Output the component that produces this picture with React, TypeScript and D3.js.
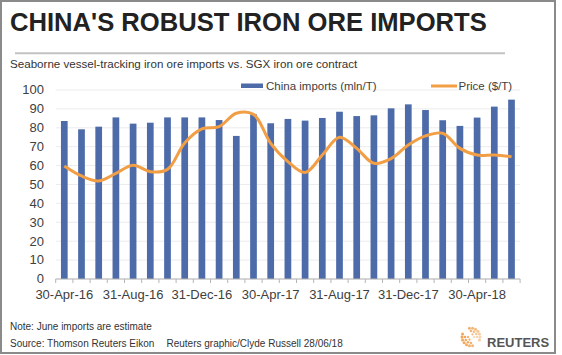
import React from "react";
import * as d3 from "d3";

const categories = [
  "30-Apr-16", "31-May-16", "30-Jun-16", "31-Jul-16", "31-Aug-16", "30-Sep-16",
  "31-Oct-16", "30-Nov-16", "31-Dec-16", "31-Jan-17", "28-Feb-17", "31-Mar-17",
  "30-Apr-17", "31-May-17", "30-Jun-17", "31-Jul-17", "31-Aug-17", "30-Sep-17",
  "31-Oct-17", "30-Nov-17", "31-Dec-17", "31-Jan-18", "28-Feb-18", "31-Mar-18",
  "30-Apr-18", "31-May-18", "30-Jun-18",
];

const imports = [
  83.6, 79.2, 80.6, 85.5, 82.2, 82.7, 85.5, 85.5, 85.5, 84.1, 75.7, 87.1,
  82.4, 84.7, 83.8, 85.2, 88.5, 86.2, 86.6, 90.3, 92.4, 89.4, 84.0, 81.0,
  85.4, 91.2, 94.9,
];

const price = [
  59.8, 54.5, 51.9, 55.9, 60.2, 56.8, 58.0, 72.0, 79.4, 80.6, 87.7, 87.1,
  71.8, 62.1, 56.3, 65.6, 75.0, 69.1, 61.2, 63.7, 70.9, 75.7, 77.1, 69.1,
  65.6, 65.6, 64.7,
];

const yTicks = [0, 10, 20, 30, 40, 50, 60, 70, 80, 90, 100];
const labelEvery = 4;

const title = "CHINA'S ROBUST IRON ORE IMPORTS";
const subtitle = "Seaborne vessel-tracking iron ore imports vs. SGX iron ore contract";
const legendImports = "China imports (mln/T)";
const legendPrice = "Price ($/T)";
const note = "Note: June imports are estimate";
const source = "Source: Thomson Reuters Eikon";
const credit = "Reuters graphic/Clyde Russell 28/06/18";

const W = 562;
const H = 355;
const FONT = "'Liberation Sans', Arial, sans-serif";
const BAR = "#4d6ba9";
const ORANGE = "#f29e45";

export default function App() {
  const x = d3
    .scaleBand<number>()
    .domain(d3.range(categories.length))
    .range([55.7, 520.1])
    .paddingInner(0.61)
    .paddingOuter(0.305);
  const y = d3.scaleLinear().domain([0, 100]).range([279, 90]);
  const bw = x.bandwidth();
  const step = x.step();
  const cx = (i: number) => (x(i) as number) + bw / 2;

  const line = d3
    .line<number>()
    .x((_, i) => cx(i))
    .y((d) => y(d))
    .curve(d3.curveCatmullRom.alpha(0.5));

  const boundaries = d3.range(categories.length + 1).map((i) => 55.7 + i * step);

  // Reuters logo dots
  const logoDots: { x: number; y: number; r: number; o: number }[] = [];
  const lc = { x: 471, y: 337 };
  [
    { rad: 9, n: 18, r: 1.5 },
    { rad: 6, n: 12, r: 1.3 },
    { rad: 3, n: 6, r: 1.1 },
  ].forEach((ring) => {
    for (let k = 0; k < ring.n; k++) {
      const a = (k / ring.n) * Math.PI * 2;
      const deg = (a * 180) / Math.PI;
      if ((deg > 20 && deg < 60) || (deg > 200 && deg < 240)) continue;
      logoDots.push({
        x: lc.x + Math.cos(a) * ring.rad,
        y: lc.y + Math.sin(a) * ring.rad,
        r: ring.r,
        o: 0.45 + 0.5 * Math.abs(Math.sin(a / 2)),
      });
    }
  });

  return (
    <svg
      width={W}
      height={H}
      style={{ position: "absolute", left: 0, top: 0, background: "#fff" }}
      fontFamily={FONT}
    >
      <rect x={0} y={0} width={W} height={H} fill="#fff" />
      <rect x={1} y={1} width={554} height={352} fill="none" stroke="#8a8a8a" strokeWidth={2} />

      <text x={10} y={31} fontSize={25.6} fontWeight="bold" fill="#222">
        {title}
      </text>
      <line x1={15} x2={505} y1={53.3} y2={53.3} stroke="#c2c2c2" strokeWidth={2} />
      <text x={10} y={67.5} fontSize={11.6} fill="#333">
        {subtitle}
      </text>

      {/* gridlines */}
      {yTicks.map((t) => (
        <line key={"g" + t} x1={55.7} x2={520.1} y1={y(t)} y2={y(t)} stroke="#ececec" strokeWidth={1} />
      ))}
      {yTicks.map((t) => (
        <text key={"yl" + t} x={44} y={y(t) + 4.3} fontSize={13} textAnchor="end" fill="#404040">
          {t}
        </text>
      ))}

      {/* bars */}
      {imports.map((v, i) => (
        <rect key={"b" + i} x={x(i)} y={y(v)} width={bw} height={y(0) - y(v)} fill={BAR} />
      ))}

      {/* x axis */}
      <line x1={55.7} x2={520.1} y1={y(0)} y2={y(0)} stroke="#b5b5b5" strokeWidth={1} />
      {boundaries.map((bx, i) => (
        <line key={"t" + i} x1={bx} x2={bx} y1={y(0)} y2={y(0) + 4} stroke="#b5b5b5" strokeWidth={1} />
      ))}
      {categories.map((c, i) =>
        i % labelEvery === 0 ? (
          <text key={"xl" + i} x={cx(i)} y={298.6} fontSize={13} textAnchor="middle" fill="#404040">
            {c}
          </text>
        ) : null
      )}

      {/* price line */}
      <path d={line(price) || ""} fill="none" stroke={ORANGE} strokeWidth={3} strokeLinejoin="round" />

      {/* legend */}
      <rect x={241} y={83.5} width={22} height={4.5} fill={BAR} />
      <text x={266} y={90} fontSize={11.5} fill="#404040">
        {legendImports}
      </text>
      <line x1={431} x2={457} y1={86} y2={86} stroke={ORANGE} strokeWidth={3} />
      <text x={458.5} y={90} fontSize={11.5} fill="#404040">
        {legendPrice}
      </text>

      {/* footer */}
      <text x={10} y={330} fontSize={10} fill="#333">
        {note}
      </text>
      <text x={10} y={347} fontSize={10} fill="#333">
        {source}
      </text>
      <text x={166.5} y={347} fontSize={10} fill="#333">
        {credit}
      </text>

      {logoDots.map((d, i) => (
        <circle key={"ld" + i} cx={d.x} cy={d.y} r={d.r} fill="#f0a050" opacity={d.o} />
      ))}
      <text x={487} y={347} fontSize={13} fontWeight="bold" fill="#555">
        REUTERS
      </text>
    </svg>
  );
}
